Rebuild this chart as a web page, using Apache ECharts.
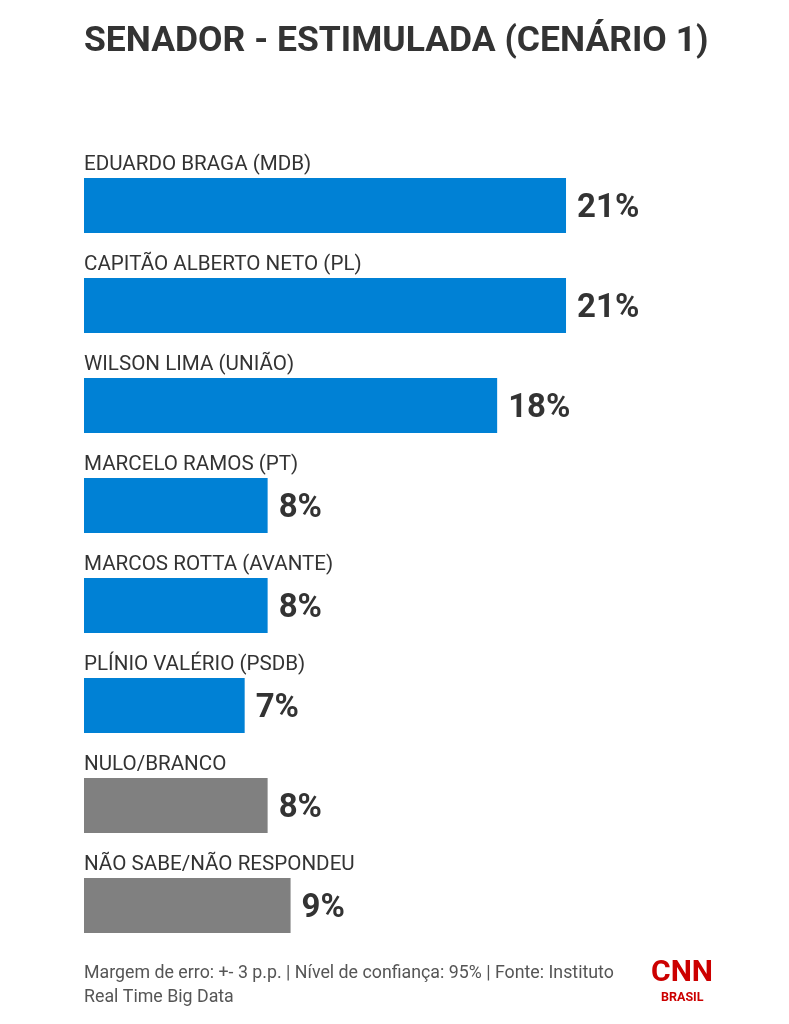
<!DOCTYPE html>
<html>
<head>
    <meta charset="utf-8">
    <title>Senador - Estimulada</title>
    <script src="https://cdn.jsdelivr.net/npm/echarts@6/dist/echarts.min.js"></script>
    <style>
        html, body { margin: 0; padding: 0; background: #fff; }
    </style>
</head>
<body>
    <div id="main" style="width: 789px;height:1024px;"></div>
    <script type="text/javascript">
        // dados
        let categories = ['EDUARDO BRAGA (MDB)', 'CAPITÃO ALBERTO NETO (PL)', 'WILSON LIMA (UNIÃO)',
            'MARCELO RAMOS (PT)', 'MARCOS ROTTA (AVANTE)', 'PLÍNIO VALÉRIO (PSDB)',
            'NULO/BRANCO', 'NÃO SABE/NÃO RESPONDEU']
        let values = [21, 21, 18, 8, 8, 7, 8, 9]
        let candidateCount = 6

        let myChart = echarts.init(document.getElementById('main'));

        let font = 'Roboto'
        let barColor = function (p) {
            return p.dataIndex < candidateCount ? '#0081d5' : '#808080'
        }

        let option = {
            animation: false,
            backgroundColor: '#fff',
            grid: { left: 84, top: 155.5, width: 688.6, height: 800 },
            xAxis: { type: 'value', min: 0, max: 30, show: false },
            yAxis: {
                type: 'category',
                inverse: true,
                data: categories,
                show: false
            },
            graphic: [
                {
                    type: 'text', left: 84, top: 24,
                    style: { text: 'SENADOR - ESTIMULADA (CENÁRIO 1)', font: 'bold 35.5px ' + font, fill: '#333' }
                },
                {
                    type: 'text', left: 84, top: 962,
                    style: {
                        text: 'Margem de erro: +- 3 p.p. | Nível de confiança: 95% | Fonte: Instituto\nReal Time Big Data',
                        font: '17.8px ' + font, fill: '#555', lineHeight: 24
                    }
                },
                {
                    type: 'text', left: 651, top: 958,
                    style: { text: 'CNN', font: 'bold 30px ' + font, fill: '#cc0000' }
                },
                {
                    type: 'text', left: 661, top: 991,
                    style: { text: 'BRASIL', font: 'bold 12.5px ' + font, fill: '#cc0000' }
                }
            ],
            series: [
                {
                    type: 'bar',
                    data: values,
                    barWidth: 55,
                    itemStyle: { color: barColor },
                    label: {
                        show: true,
                        position: 'right',
                        distance: 11,
                        offset: [0, 3],
                        formatter: '{c}%',
                        fontFamily: font,
                        fontWeight: 'bold',
                        fontSize: 33,
                        color: '#333'
                    }
                },
                {
                    // rótulos das categorias acima das barras
                    type: 'bar',
                    data: values,
                    barWidth: 55,
                    barGap: '-100%',
                    silent: true,
                    itemStyle: { color: 'rgba(0,0,0,0)' },
                    label: {
                        show: true,
                        position: [0, -3],
                        verticalAlign: 'bottom',
                        formatter: '{b}',
                        fontFamily: font,
                        fontSize: 20.6,
                        color: '#333'
                    }
                }
            ]
        };

        myChart.setOption(option);
    </script>
</body>
</html>
